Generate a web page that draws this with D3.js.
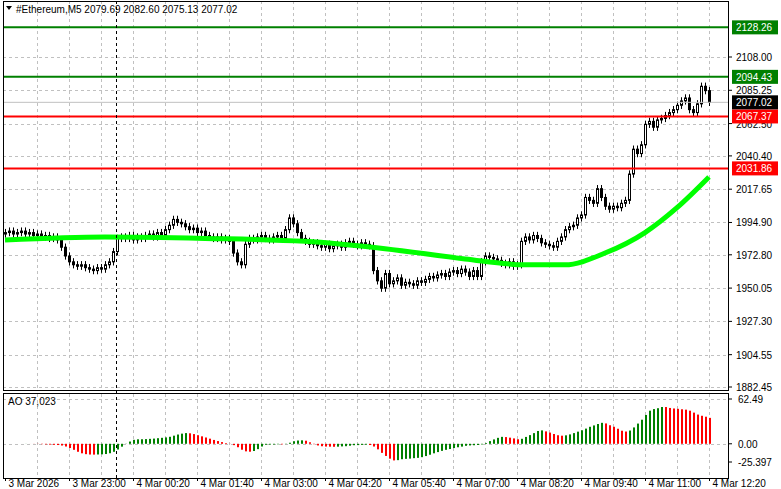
<!DOCTYPE html>
<html><head><meta charset="utf-8">
<script src="https://cdn.jsdelivr.net/npm/d3@7"></script>
<style>body{margin:0;background:#fff}svg{display:block;font-family:"Liberation Sans",Arial,sans-serif}</style>
</head><body>
<svg width="781" height="489"></svg>
<script>
const closes = [1988,1989,1987,1988,1989,1987,1988,1986,1987,1985,1986,1984,1985,1983,
  1978,1972,1968, 1966,1965,1966,1964,1963,1962,1964,1963, 1966,1968,1975,1984,
  1985,1984,1986,1983,1985,1984,1986,1987,1985,1988,1986,1990, 1993,1997,1995,
  1994,1992,1990,1991,1988,1989, 1986,1985,1984,1985,1983,1984,1982, 1974,1968,1966,
  1980,1984,1983,1985,1986,1984,1983,1985,1986,1984, 1990,1998,1994,
  1988,1984,1982,1980,1981,1979,1978,1980, 1977,1979,1980,1978,1981,1982,1980,1979,1981,1980,1979,
  1962,1955,1950, 1960,1953,1955,1957,1952,1954,1953,1952,1955,
  1954,1956,1958,1957,1959,1960,1958,1961,1962,1960,1963,1961, 1958,1962,1958,
  1968,1972,1971,1970,1969, 1967,1966,1968,1965,1966, 1982,
  1985,1983,1986,1984,1981,1980,1979, 1978,1982,1985,1990,1992, 1993,1998,2000,
  2012,2010,2008,2018, 2012,2006,2004,2006, 2005,2008,2010, 2028,2045,2042,
  2048,2062,2064, 2060,2065,2066,2068, 2070,2072,2075,2078, 2080,2072,2070,
  2076,2088,2085, 2077];
const firstOpen = 1987;
// moving average read at bar indices
const maBars = [0,25,50,75,95,115,130,140,150,160,168,176];
const maVals = [1983,1985,1984,1982,1977,1970,1966,1966,1974,1988,2005,2026];
const priceTicks = [2108.00,2085.25,2062.50,2040.40,2017.65,1994.90,1972.80,1950.05,1927.30,1904.55,1882.45];
const levels = [{v:2128.26,c:"#008000"},{v:2094.43,c:"#008000"},{v:2067.37,c:"#ff0000"},{v:2031.86,c:"#ff0000"}];
const lastPrice = 2077.02;
const timeLabels = ["3 Mar 2026","3 Mar 23:00","4 Mar 00:20","4 Mar 01:40","4 Mar 03:00","4 Mar 04:20","4 Mar 05:40","4 Mar 07:00","4 Mar 08:20","4 Mar 09:40","4 Mar 11:00","4 Mar 12:20"];
const aoTicks = [62.49, 0.00, -25.397];

const svg = d3.select("svg");
const L = 3, R = 728;
const x = d3.scaleLinear().domain([0,176]).range([5,709]);
const px = i => Math.round(x(i)) + 0.5;
const y = d3.scaleLinear().domain([1882.45,2108]).range([387,57]);
const yAo = d3.scaleLinear().domain([-25.397,62.49]).range([462,399]);

// grid
const grid = svg.append("g").attr("stroke","#c0c0c0").attr("stroke-dasharray","3,3");
for (let i = 8; i <= 176; i += 8) {
  grid.append("line").attr("x1",px(i)).attr("x2",px(i)).attr("y1",1).attr("y2",390);
  grid.append("line").attr("x1",px(i)).attr("x2",px(i)).attr("y1",394).attr("y2",477);
}
priceTicks.forEach(v => grid.append("line").attr("x1",L).attr("x2",R).attr("y1",Math.round(y(v))+0.5).attr("y2",Math.round(y(v))+0.5));
aoTicks.slice(0,2).forEach(v => grid.append("line").attr("x1",L).attr("x2",R).attr("y1",Math.round(yAo(v))+0.5).attr("y2",Math.round(yAo(v))+0.5));

// candles
const bars = closes.map((c,i) => {
  const o = i ? closes[i-1] : firstOpen;
  return {i, o, c, h: Math.max(o,c)+2.5, l: Math.min(o,c)-2.5};
});
const cg = svg.append("g").attr("stroke","#000");
cg.selectAll("line").data(bars).join("line")
  .attr("x1",d=>px(d.i)).attr("x2",d=>px(d.i)).attr("y1",d=>y(d.h)).attr("y2",d=>y(d.l));
cg.selectAll("rect").data(bars).join("rect")
  .attr("x",d=>px(d.i)-1).attr("width",2)
  .attr("y",d=>y(Math.max(d.o,d.c))).attr("height",d=>Math.max(0.5,Math.abs(y(d.o)-y(d.c))))
  .attr("fill",d=>d.c>=d.o?"#fff":"#000");

// MA
svg.append("path").datum(maBars.map((b,k)=>[b,maVals[k]]))
  .attr("d", d3.line().x(d=>x(d[0])).y(d=>y(d[1])).curve(d3.curveMonotoneX))
  .attr("fill","none").attr("stroke","#00ff00").attr("stroke-width",5);

// levels
levels.forEach(l => svg.append("line").attr("x1",L).attr("x2",R).attr("y1",y(l.v)).attr("y2",y(l.v))
  .attr("stroke",l.c).attr("stroke-width",2));
svg.append("line").attr("x1",L).attr("x2",R).attr("y1",y(lastPrice)).attr("y2",y(lastPrice)).attr("stroke","#c0c0c0");

// AO (median price SMA5 - SMA34 over available bars)
const med = bars.map(d=>(d.h+d.l)/2);
const sma = (n,i) => d3.mean(med.slice(Math.max(0,i-n+1), i+1));
const ao = med.map((_,i)=> sma(5,i) - sma(34,i));
svg.append("g").selectAll("rect").data(ao).join("rect")
  .attr("x",(d,i)=>Math.round(x(i))).attr("width",2)
  .attr("y",d=>Math.min(yAo(0),yAo(d))).attr("height",d=>Math.abs(yAo(d)-yAo(0)))
  .attr("fill",(d,i)=> i && d < ao[i-1] ? "#ff0000" : "#008000");

// crosshair
svg.append("line").attr("x1",116.5).attr("x2",116.5).attr("y1",1).attr("y2",478)
  .attr("stroke","#000").attr("stroke-dasharray","3,3");

// frames
const fr = svg.append("g").attr("fill","none").attr("stroke","#000");
fr.append("rect").attr("x",L+0.5).attr("y",1.5).attr("width",R-L).attr("height",389);
fr.append("rect").attr("x",L+0.5).attr("y",393.5).attr("width",R-L).attr("height",85);

// price axis labels
const ax = svg.append("g").attr("font-size",10);
priceTicks.forEach(v => {
  ax.append("line").attr("x1",R).attr("x2",R+4).attr("y1",y(v)).attr("y2",y(v)).attr("stroke","#000");
  ax.append("text").attr("x",736).attr("y",y(v)+4).text(v.toFixed(2));
});
aoTicks.forEach(v => {
  ax.append("line").attr("x1",R).attr("x2",R+4).attr("y1",yAo(v)).attr("y2",yAo(v)).attr("stroke","#000");
  ax.append("text").attr("x",738).attr("y",yAo(v)+4).text(v===0?"0.00":String(v));
});
const tag = (v,bg) => {
  ax.append("rect").attr("x",732).attr("y",y(v)-7).attr("width",46).attr("height",14).attr("fill",bg);
  ax.append("text").attr("x",736).attr("y",y(v)+4).attr("fill","#fff").text(v.toFixed(2));
};
levels.forEach(l => tag(l.v,l.c));
tag(lastPrice,"#000");

// time axis
timeLabels.forEach((t,k) => {
  const xi = px(k*16);
  ax.append("line").attr("x1",xi).attr("x2",xi).attr("y1",478).attr("y2",481).attr("stroke","#000");
  ax.append("text").attr("x",xi+3).attr("y",487).text(t);
});

// headers
svg.append("path").attr("d","M6,6 L12,6 L9,10 Z").attr("fill","#000");
svg.append("text").attr("x",16).attr("y",13).attr("font-size",10)
  .text("#Ethereum,M5  2079.69 2082.60 2075.13 2077.02");
svg.append("text").attr("x",8).attr("y",405).attr("font-size",10).text("AO 37,023");
</script>
</body></html>
